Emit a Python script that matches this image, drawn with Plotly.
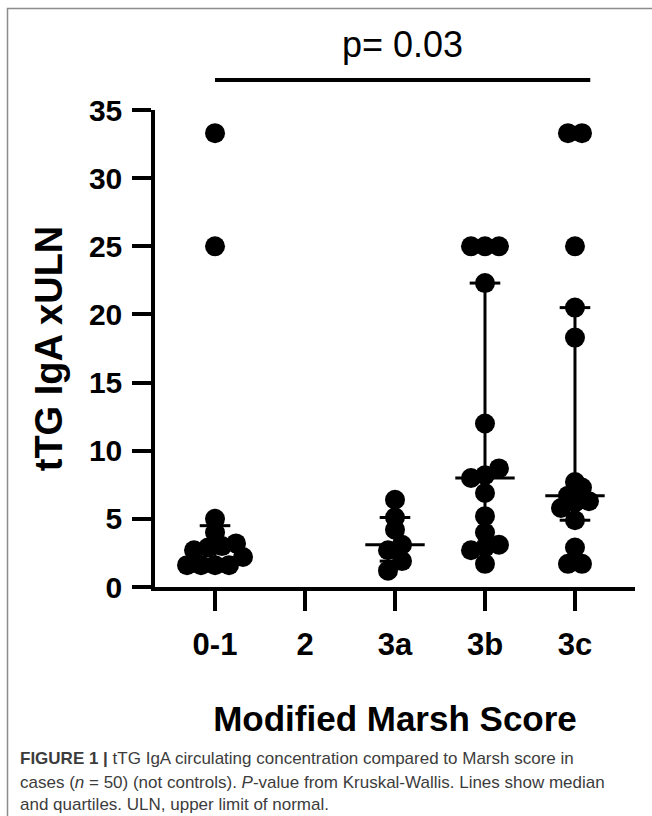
import numpy as np
import plotly.graph_objects as go

# ---------------- data ----------------
categories = ["0-1", "2", "3a", "3b", "3c"]
g01 = [33.3, 25.0, 5.0, 4.0, 3.2, 3.0, 2.9, 2.7, 2.2, 1.6, 1.6, 1.6, 1.6]
g2 = []
g3a = [6.4, 5.1, 4.2, 3.1, 2.7, 1.9, 1.2]
g3b = [25.0, 25.0, 25.0, 22.3, 12.0, 8.7, 8.2, 8.0, 6.9, 5.2, 4.0, 3.1, 2.9, 2.7, 1.7]
g3c = [33.3, 33.3, 25.0, 20.5, 18.3, 7.7, 7.3, 6.7, 6.3, 6.2, 5.8, 4.9, 2.9, 1.7, 1.7]
groups = [g01, g2, g3a, g3b, g3c]
y_tick_vals = [0, 5, 10, 15, 20, 25, 30, 35]
p_text = "p= 0.03"
x_title = "Modified Marsh Score"
y_title = "tTG IgA xULN"
caption_lines = [
    "<b>FIGURE 1 |</b> tTG IgA circulating concentration compared to Marsh score in",
    "cases (<i>n</i> = 50) (not controls). <i>P</i>-value from Kruskal-Wallis. Lines show median",
    "and quartiles. ULN, upper limit of normal.",
]

# ---------------- layout geometry ----------------
W, H = 652, 816
ML, MR, MT, MB = 155, 17, 110, 229
plot_w = W - ML - MR
plot_h = H - MT - MB
x_range = [-0.667, 4.667]
y_range = [0, 35]
px_x = plot_w / (x_range[1] - x_range[0])
px_y = plot_h / (y_range[1] - y_range[0])


def pxx(p):  # figure pixel x -> paper
    return (p - ML) / plot_w


def pxy(p):  # figure pixel y -> paper
    return (H - MB - p) / plot_h


def swarm(vals, row_px=10.0, step=14.0):
    """Group points into rows of similar value and centre each row."""
    vals = np.asarray(vals, dtype=float)
    offs = np.zeros(len(vals))
    order = np.argsort(vals, kind="stable")
    rows, cur, start = [], [], None
    for i in order:
        yp = vals[i] * px_y
        if start is None or yp - start > row_px:
            if cur:
                rows.append(cur)
            cur, start = [i], yp
        else:
            cur.append(i)
    if cur:
        rows.append(cur)
    for row in rows:
        n = len(row)
        for j, i in enumerate(row):
            offs[i] = (j - (n - 1) / 2) * step / px_x
    return offs


fig = go.Figure()

# summary lines (median and quartiles)
lx, ly = [], []
for i, v in enumerate(groups):
    if len(v) == 0:
        continue
    q1, med, q3 = np.percentile(v, [25, 50, 75], method="weibull")
    lx += [i - 0.33, i + 0.33, None, i - 0.17, i + 0.17, None,
           i - 0.17, i + 0.17, None, i, i, None]
    ly += [med, med, None, q1, q1, None, q3, q3, None, q1, q3, None]
fig.add_trace(go.Scatter(x=lx, y=ly, mode="lines",
                         line=dict(color="black", width=3),
                         hoverinfo="skip", showlegend=False, cliponaxis=False))

# points
for i, v in enumerate(groups):
    if len(v) == 0:
        continue
    offs = swarm(v)
    fig.add_trace(go.Scatter(
        x=[i + o for o in offs], y=v, mode="markers",
        marker=dict(color="black", size=20, line=dict(width=0)),
        showlegend=False, cliponaxis=False, name=categories[i]))

fig.update_layout(
    width=W, height=H,
    margin=dict(l=ML, r=MR, t=MT, b=MB, autoexpand=False),
    paper_bgcolor="white", plot_bgcolor="white",
    font=dict(family="Liberation Sans, Arial, sans-serif", color="black"),
    xaxis=dict(
        range=x_range, tickmode="array",
        tickvals=list(range(len(categories))), ticktext=categories,
        showgrid=False, zeroline=False, showline=True, linecolor="black",
        linewidth=3.5, ticks="outside", ticklen=20, tickwidth=3.5,
        tickcolor="black", ticklabelstandoff=7,
        tickfont=dict(size=31, weight="bold", color="black"),
        title=dict(text=x_title, standoff=47,
                   font=dict(size=35, weight="bold", color="black")),
        automargin=False,
    ),
    yaxis=dict(
        range=y_range, tickmode="array", tickvals=y_tick_vals,
        showgrid=False, zeroline=False, showline=True, linecolor="black",
        linewidth=3.5, ticks="outside", ticklen=19, tickwidth=3.5,
        tickcolor="black", ticklabelstandoff=4,
        tickfont=dict(size=30, weight="bold", color="black"),
        title=dict(text=y_title, standoff=16,
                   font=dict(size=38, weight="bold", color="black")),
        automargin=False,
    ),
)

# p-value bar and text
bar_x0 = (0 - x_range[0]) / (x_range[1] - x_range[0])
bar_x1 = (4.17 - x_range[0]) / (x_range[1] - x_range[0])
fig.add_shape(type="line", xref="paper", yref="paper",
              x0=bar_x0, x1=bar_x1, y0=pxy(80), y1=pxy(80),
              line=dict(color="black", width=4))
fig.add_annotation(text=p_text, xref="paper", yref="paper",
                   x=(bar_x0 + bar_x1) / 2, y=pxy(45), showarrow=False,
                   xanchor="center", yanchor="middle",
                   font=dict(size=36, color="black"))

# frame
fig.add_shape(type="rect", xref="paper", yref="paper",
              x0=pxx(7.5), x1=pxx(720), y0=pxy(900), y1=pxy(8.5),
              line=dict(color="#8c8c8c", width=1.5), layer="below")

# caption
for line, yp in zip(caption_lines, [758, 782, 804]):
    fig.add_annotation(text=line, xref="paper", yref="paper",
                       x=pxx(18), y=pxy(yp), showarrow=False,
                       xanchor="left", yanchor="middle", align="left",
                       font=dict(size=17, color="#3c3c3c"))

fig.write_html(
    "out.html",
    config={"displayModeBar": False},
    post_script="document.body.style.margin='0';"
                "document.body.style.overflow='hidden';"
                "document.documentElement.style.overflow='hidden';",
)
